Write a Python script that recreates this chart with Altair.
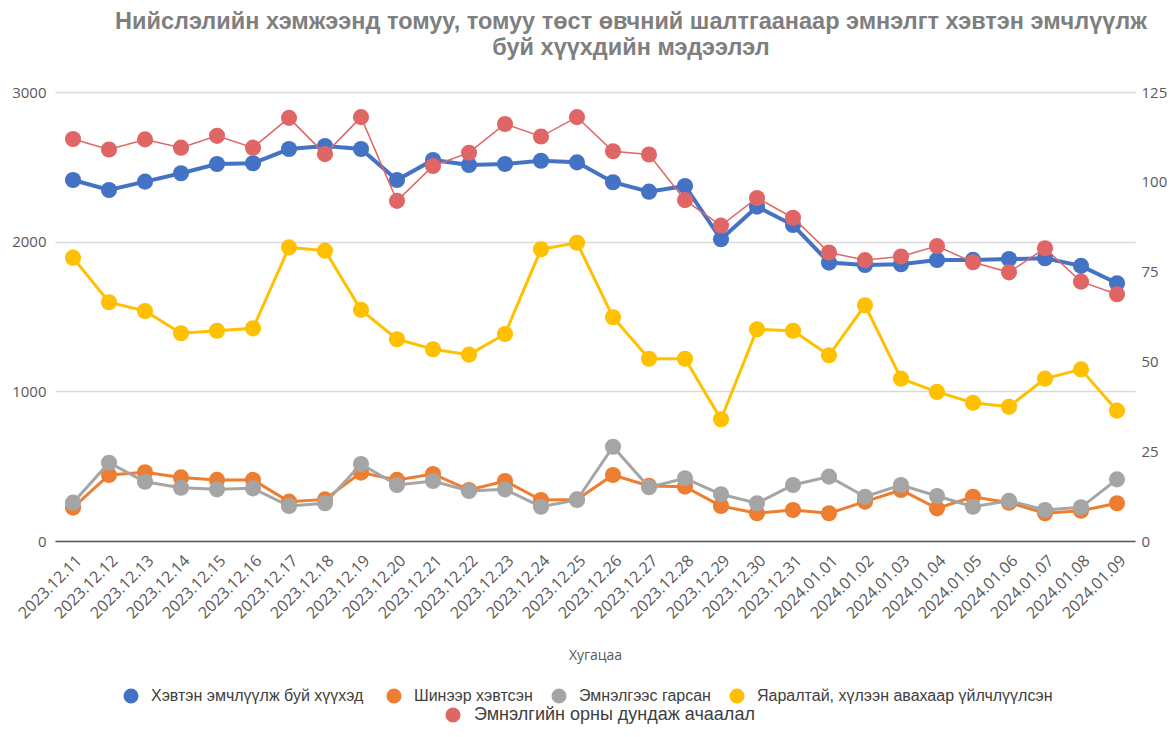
import altair as alt
import pandas as pd

dates = ["2023.12.11", "2023.12.12", "2023.12.13", "2023.12.14", "2023.12.15",
         "2023.12.16", "2023.12.17", "2023.12.18", "2023.12.19", "2023.12.20",
         "2023.12.21", "2023.12.22", "2023.12.23", "2023.12.24", "2023.12.25",
         "2023.12.26", "2023.12.27", "2023.12.28", "2023.12.29", "2023.12.30",
         "2023.12.31", "2024.01.01", "2024.01.02", "2024.01.03", "2024.01.04",
         "2024.01.05", "2024.01.06", "2024.01.07", "2024.01.08", "2024.01.09"]

hospitalized = [2412, 2345, 2401, 2457, 2519, 2524, 2619, 2639, 2619, 2412,
                2546, 2512, 2519, 2541, 2530, 2397, 2334, 2372, 2016, 2234,
                2111, 1860, 1844, 1849, 1878, 1878, 1884, 1889, 1838, 1722]
new_admitted = [223, 441, 459, 425, 408, 408, 263, 278, 457, 408,
                448, 341, 401, 274, 278, 441, 368, 363, 234, 185,
                207, 185, 263, 341, 218, 296, 256, 185, 202, 252]
discharged = [256, 523, 396, 356, 345, 352, 234, 252, 514, 374,
              401, 334, 345, 229, 274, 630, 359, 419, 312, 252,
              374, 430, 296, 374, 301, 229, 269, 207, 225, 412]
emergency = [1893, 1595, 1537, 1388, 1405, 1421, 1962, 1940, 1544, 1348,
             1281, 1245, 1383, 1949, 1993, 1495, 1218, 1218, 813, 1415,
             1405, 1241, 1575, 1085, 996, 924, 897, 1085, 1147, 871]
bed_load = [111.9, 109.0, 111.8, 109.5, 112.8, 109.5, 117.8, 107.7, 118.0, 94.7,
            104.4, 108.1, 116.1, 112.6, 118.0, 108.5, 107.6, 94.9, 87.8, 95.5,
            90.0, 80.3, 78.2, 79.2, 82.1, 77.6, 74.8, 81.5, 72.2, 68.7]

names = ["Хэвтэн эмчлүүлж  буй хүүхэд", "Шинээр хэвтсэн", "Эмнэлгээс гарсан",
         "Яаралтай, хүлээн авахаар үйлчлүүлсэн"]
red_name = "Эмнэлгийн орны дундаж ачаалал"
colors = ["#4472C4", "#ED7D31", "#A5A5A5", "#FFC000"]
red_color = "#E06666"
widths = [4, 3, 3, 3]
left_ticks = [0, 1000, 2000, 3000]
right_ticks = [0, 25, 50, 75, 100, 125]
title_lines = ["Нийслэлийн хэмжээнд томуу, томуу төст өвчний шалтгаанаар эмнэлгт хэвтэн эмчлүүлж",
               "буй хүүхдийн мэдээлэл"]

rows = []
for name, vals in zip(names, [hospitalized, new_admitted, discharged, emergency]):
    for d, v in zip(dates, vals):
        rows.append({"date": d, "series": name, "value": v})
df = pd.DataFrame(rows)
df_red = pd.DataFrame({"date": dates, "series": red_name, "value": bed_load})

x_enc = alt.X("date:N", sort=dates, scale=alt.Scale(domain=dates),
              axis=alt.Axis(labelAngle=-45, labelFont="Open Sans", labelFontSize=16,
                            labelColor="#595959", ticks=False, domain=True,
                            domainColor="#595959", domainWidth=1.5, grid=False,
                            labelPadding=11, title="Хугацаа", titleFont="Open Sans",
                            titleFontSize=14, titleFontWeight="normal",
                            titleColor="#595959", titlePadding=27))

y_left = alt.Y("value:Q", scale=alt.Scale(domain=[0, 3000], nice=False),
               axis=alt.Axis(values=left_ticks, format="d", grid=True, gridColor="#d9d9d9",
                             gridWidth=1.5, domain=False, ticks=False, labelColor="#595959",
                             labelFont="Open Sans", labelFontSize=15, labelPadding=9, title=None))
y_right = alt.Y("value:Q", scale=alt.Scale(domain=[0, 125], nice=False),
                axis=alt.Axis(orient="right", values=right_ticks, format="d", grid=False,
                              domain=False, ticks=False,
                              labelColor="#595959", labelFont="Open Sans", labelFontSize=15,
                              labelPadding=6, title=None))

color_left = alt.Color("series:N", scale=alt.Scale(domain=names, range=colors),
                       legend=alt.Legend(title=None, orient="none", legendX=68, legendY=596,
                                         direction="horizontal", symbolType="circle",
                                         symbolSize=227, symbolStrokeWidth=0, symbolOpacity=1,
                                         labelFont="Liberation Sans", labelFontSize=16,
                                         labelColor="#404040", labelOffset=12,
                                         columnPadding=18, padding=0, labelLimit=400))
color_red = alt.Color("series:N", scale=alt.Scale(domain=[red_name], range=[red_color]),
                      legend=alt.Legend(title=None, orient="none", legendX=389, legendY=614,
                                        direction="horizontal", symbolType="circle",
                                        symbolSize=227, symbolStrokeWidth=0, symbolOpacity=1,
                                        labelFont="Liberation Sans", labelFontSize=18,
                                        labelColor="#404040", labelOffset=12,
                                        padding=0, labelLimit=400))

layers = []
for name, col, w in zip(names, colors, widths):
    base = alt.Chart(df).transform_filter(alt.FieldEqualPredicate(field="series", equal=name))
    layers.append(base.mark_line(color=col, strokeWidth=w).encode(x=x_enc, y=y_left))
    layers.append(base.mark_circle(size=260, opacity=1).encode(x=x_enc, y=y_left, color=color_left))
left = alt.layer(*layers)

red_base = alt.Chart(df_red)
right = alt.layer(
    red_base.mark_line(color=red_color, strokeWidth=1.5).encode(x=x_enc, y=y_right),
    red_base.mark_circle(size=260, opacity=1).encode(x=x_enc, y=y_right, color=color_red),
)

chart = alt.layer(left, right).resolve_scale(y="independent", color="independent").properties(
    width=1080, height=449,
    background="white",
    autosize=alt.AutoSizeParams(type="none"),
    padding={"left": 47, "top": 84, "right": 32, "bottom": 184},
    title=alt.TitleParams(text=title_lines, font="Liberation Sans", fontSize=23.5,
                          fontWeight="bold", color="#7f7f7f", anchor="middle",
                          frame="group", dx=36, offset=26, lineHeight=26),
).configure_view(strokeWidth=0, strokeOpacity=0)

chart.save("out.html", embed_options={"renderer": "svg", "actions": False})
